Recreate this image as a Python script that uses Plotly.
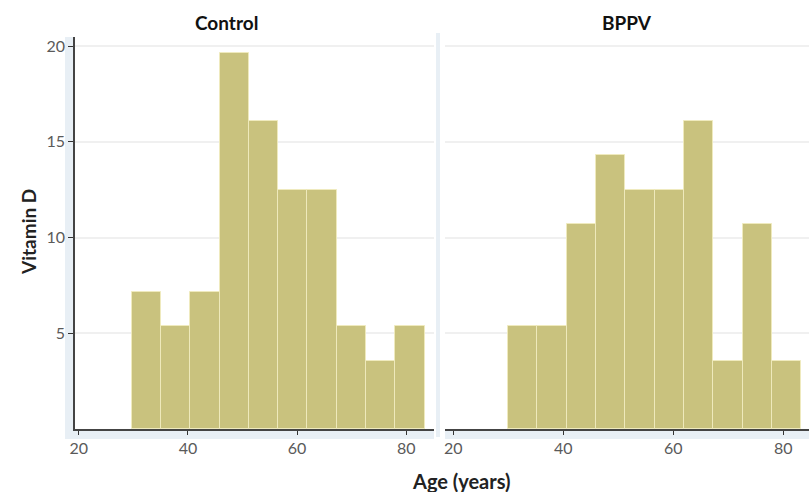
import plotly.graph_objects as go

# Data
ctrl_edges = [29.7, 35.1, 40.4, 45.8, 51.2, 56.5, 61.9, 67.3, 72.6, 78.0, 83.4]
ctrl_vals = [7.14, 5.36, 7.14, 19.64, 16.07, 12.5, 12.5, 5.36, 3.57, 5.36]
bppv_edges = [30.0, 35.3, 40.7, 46.0, 51.3, 56.7, 62.0, 67.3, 72.7, 78.0, 83.3]
bppv_vals = [5.36, 5.36, 10.71, 14.29, 12.5, 12.5, 16.07, 3.57, 10.71, 3.57]
x_ticks = [20, 40, 60, 80]
y_ticks = [5, 10, 15, 20]
panel_titles = ["Control", "BPPV"]

BAR = "#c9c27e"
FONT = "Lato, 'Open Sans', sans-serif"

def centers(edges):
    return [(a + b) / 2 for a, b in zip(edges[:-1], edges[1:])]

def widths(edges):
    return [b - a for a, b in zip(edges[:-1], edges[1:])]

fig = go.Figure()
fig.add_trace(go.Bar(x=centers(ctrl_edges), y=ctrl_vals, width=widths(ctrl_edges),
                     marker=dict(color=BAR, line=dict(color="rgba(240,235,190,0.9)", width=1)),
                     xaxis="x", yaxis="y", showlegend=False, hoverinfo="x+y"))
fig.add_trace(go.Bar(x=centers(bppv_edges), y=bppv_vals, width=widths(bppv_edges),
                     marker=dict(color=BAR, line=dict(color="rgba(240,235,190,0.9)", width=1)),
                     xaxis="x2", yaxis="y2", showlegend=False, hoverinfo="x+y"))

W, H = 809, 492
L, R, T, B = 75, 0, 37, 63
pw = W - L - R
ph = H - T - B
d1 = [0, (434 - L) / pw]
d2 = [(445 - L) / pw, 1]

tickfont = dict(family=FONT, size=16, color="#5a5a5a")
common_x = dict(tickvals=x_ticks, ticks="outside", ticklen=4, tickcolor="#333",
                showline=True, linecolor="#444", linewidth=1.5, showgrid=False,
                zeroline=False, tickfont=tickfont)
common_y = dict(range=[0, 20.47], tickvals=y_ticks, showgrid=True, gridcolor="#f0f0f0",
                gridwidth=1.5, zeroline=False, tickfont=tickfont)

fig.update_layout(
    width=W, height=H,
    margin=dict(l=L, r=R, t=T, b=B, autoexpand=False),
    paper_bgcolor="white", plot_bgcolor="white",
    bargap=0,
    xaxis=dict(domain=d1, range=[19.3, 85.1], anchor="y", **common_x),
    xaxis2=dict(domain=d2, range=[18.5, 84.7], anchor="y2", **common_x),
    yaxis=dict(anchor="x", showline=True, linecolor="#444", linewidth=1.5,
               ticks="outside", ticklen=5, tickcolor="#333", **common_y),
    yaxis2=dict(anchor="x2", matches="y", showticklabels=False, showline=False,
                ticks="", **common_y),
    font=dict(family=FONT),
)

# light panel bands / separator
band = "#e8eff5"
fig.add_shape(type="rect", xref="paper", yref="paper", layer="below",
              x0=(65 - L) / pw, x1=0, y0=-8 / ph, y1=1, fillcolor=band, line_width=0)
fig.add_shape(type="rect", xref="paper", yref="paper", layer="below",
              x0=(65 - L) / pw, x1=d1[1], y0=-10 / ph, y1=0, fillcolor=band, line_width=0)
fig.add_shape(type="rect", xref="paper", yref="paper", layer="below",
              x0=d2[0], x1=1, y0=-10 / ph, y1=0, fillcolor=band, line_width=0)
fig.add_shape(type="rect", xref="paper", yref="paper", layer="below",
              x0=(436 - L) / pw, x1=(440 - L) / pw, y0=-8 / ph, y1=1.01,
              fillcolor=band, line_width=0)

ann = dict(xref="paper", yref="paper", showarrow=False, xanchor="center", yanchor="middle")
fig.add_annotation(text="<b>%s</b>" % panel_titles[0], x=(226 - L) / pw, y=1 + (T - 22) / ph,
                   font=dict(family=FONT, size=19, color="#111"), **ann)
fig.add_annotation(text="<b>%s</b>" % panel_titles[1], x=(627 - L) / pw, y=1 + (T - 22) / ph,
                   font=dict(family=FONT, size=19, color="#111"), **ann)
fig.add_annotation(text="<b>Vitamin D</b>", x=(28 - L) / pw, y=(H - B - 232) / ph, textangle=-90,
                   font=dict(family=FONT, size=19, color="#222"), **ann)
fig.add_annotation(text="<b>Age (years)</b>", x=(461 - L) / pw, y=-(481 - (H - B)) / ph,
                   font=dict(family=FONT, size=20, color="#222"), **ann)

fig.write_html("out.html", config={"displayModeBar": False},
               post_script="document.body.style.margin='0';document.body.style.overflow='hidden';")
